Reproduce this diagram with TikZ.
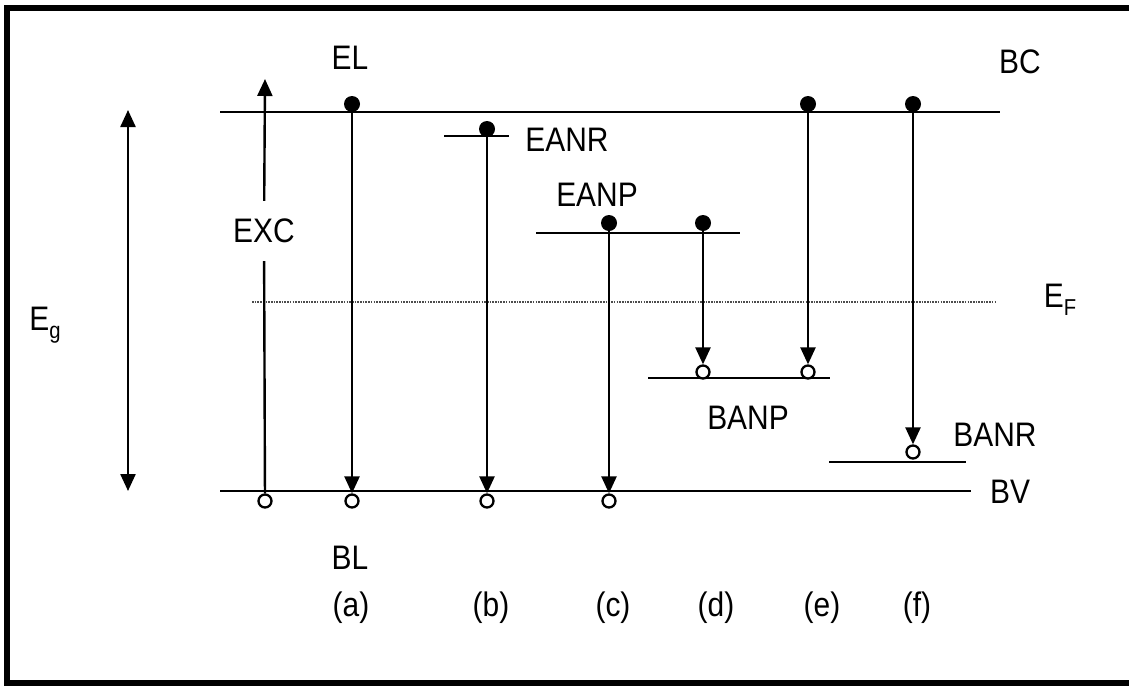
\documentclass[tikz,border=0pt]{standalone}
\usepackage{fontspec}
\setmainfont{Liberation Sans}
\usetikzlibrary{arrows.meta,positioning,calc}
\newcommand{\nw}[1]{\scalebox{0.88}[1]{#1}}
\newcommand{\lowidx}[1]{\raisebox{-0.22em}{\fontsize{23}{23}\selectfont #1}}

\begin{document}
\begin{tikzpicture}[x=1pt, y=-1pt,
  lvl/.style={line width=2.8pt},
  trans/.style={line width=2.4pt, -{Triangle[length=17pt,width=15pt]}},
  elec/.style={circle, fill, inner sep=0pt, minimum size=16pt},
  hole/.style={circle, draw, line width=2.3pt, fill=white, inner sep=0pt, minimum size=13pt},
  lab/.style={font=\fontsize{34}{38}\selectfont, inner sep=0pt}]
\useasboundingbox (0,0) rectangle (1129,686);
\draw[line width=6.5pt] (1129,8) -- (7,8) -- (7,683) -- (1129,683);

% bands and trap levels
\draw[lvl] (220,112) -- (1000,112);
\draw[lvl] (220,491) -- (971,491);
\draw[lvl] (444,136) -- (509,136);
\draw[lvl] (536,233) -- (740,233);
\draw[lvl] (648,378) -- (830,378);
\draw[lvl] (829,462) -- (966,462);
\draw[line width=1.5pt, gray!60!black, dash pattern=on 1.6pt off 1.1pt] (252,302) -- (997,302);

% band gap
\coordinate (gtop) at (128,110);
\coordinate (gbot) at (128,491);
\draw[line width=2.4pt, {Triangle[length=17pt,width=15pt]}-{Triangle[length=17pt,width=15pt]}] (gtop) -- (gbot);
\node[lab] (eg) at (45,325) {\nw{E\lowidx{g}}};

% electrons
\node[elec] (ea) at (352,104) {};
\node[elec] (eb) at (487,129) {};
\node[elec] (ec) at (609,223) {};
\node[elec] (ed) at (703,223) {};
\node[elec] (ee) at (808,104) {};
\node[elec] (ef) at (913,104) {};

% holes
\node[hole] (h0) at (265,501) {};
\node[hole] (ha) at (352,501) {};
\node[hole] (hb) at (487,501) {};
\node[hole] (hc) at (609,501) {};
\node[hole] (hd) at (703,372) {};
\node[hole] (he) at (808,372) {};
\node[hole] (hf) at (913,452) {};

% excitation
\node[lab, inner ysep=18pt] (exc) at (264,231) {\nw{EXC}};
\coordinate (exctop) at (265,79);
\draw[line width=2.4pt] (h0) -- (exc);
\draw[trans] (exc) -- (exctop);

% recombinations
\foreach \p in {a,b,c,d,e,f}
  \draw[trans] (e\p) -- (h\p);

% labels
\node[lab] (el) at (350,58) {\nw{EL}};
\node[lab] (bc) at (1020,62) {\nw{BC}};
\node[lab] (eanr) at (567,140) {\nw{EANR}};
\node[lab] (eanp) at (597,195) {\nw{EANP}};
\node[lab] (efermi) at (1060,300) {\nw{E\lowidx{F}}};
\node[lab] (banp) at (748,418) {\nw{BANP}};
\node[lab] (banr) at (995,435) {\nw{BANR}};
\node[lab] (bv) at (1010,492) {\nw{BV}};
\node[lab] (bl) at (350,558) {\nw{BL}};
\foreach \p/\x in {a/351,b/491,c/613,d/716,e/822,f/917}
  \node[lab] (c\p) at (\x,608) {\nw{(\p)}};
\end{tikzpicture}
\end{document}
